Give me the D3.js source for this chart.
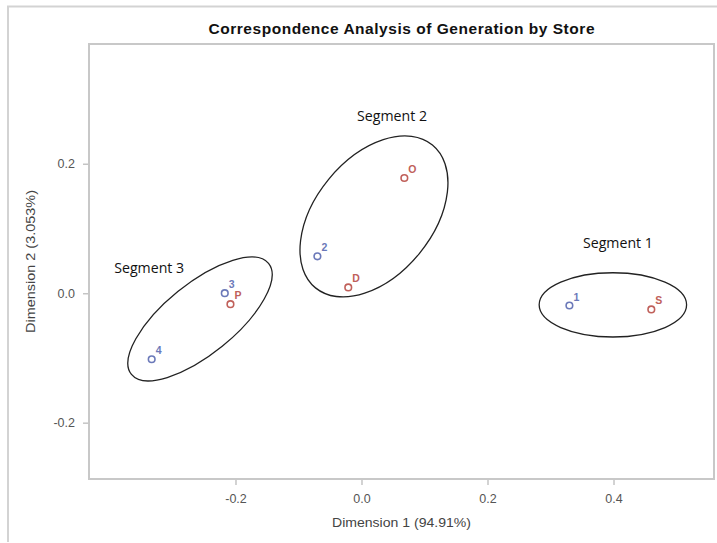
<!DOCTYPE html>
<html>
<head>
<meta charset="utf-8">
<script src="https://cdn.jsdelivr.net/npm/d3@7"></script>
<style>
  body { margin: 0; background: #fff; }
  svg { display: block; font-family: "Liberation Sans", Arial, sans-serif; }
</style>
</head>
<body>
<div id="chart"></div>
<script>
// point labels, coordinates and type (generation = row, store = column)
var labels = ["1", "2", "3", "4", "S", "D", "O", "P"];
var dim1   = [0.330, -0.070, -0.217, -0.333, 0.460, -0.021, 0.068, -0.208];
var dim2   = [-0.019, 0.057, 0.000, -0.102, -0.025, 0.009, 0.178, -0.017];
var types  = ["gen", "gen", "gen", "gen", "store", "store", "store", "store"];

// segment ellipses (data units)
var segNames  = ["Segment 1", "Segment 2", "Segment 3"];
var segCx     = [0.399, 0.0198, -0.2563];
var segCy     = [-0.018, 0.1186, -0.0397];
var segA      = [0.117, 0.1465, 0.140];
var segB      = [0.051, 0.093, 0.056];
var segAngle  = [0, -50.7, -39];
var segLabelX = [0.407, 0.0484, -0.337];
var segLabelY = [0.0777, 0.2738, 0.039];

var xTicks = [-0.2, 0.0, 0.2, 0.4];
var yTicks = [-0.2, 0.0, 0.2];

var W = 717, H = 543;
var margin = {top: 44, right: 3, bottom: 64, left: 89};
var width = W - margin.left - margin.right,
    height = H - margin.top - margin.bottom;

var colors = {gen: "#6b79b9", store: "#c0605a"};

var svg = d3.select("#chart").append("svg")
    .attr("width", W)
    .attr("height", H);

// outer frame lines
svg.append("line").attr("x1", 7).attr("x2", W).attr("y1", 6.5).attr("y2", 6.5)
    .attr("stroke", "#d3d3d3").attr("stroke-width", 2);
svg.append("line").attr("x1", 8).attr("x2", 8).attr("y1", 6).attr("y2", 542)
    .attr("stroke", "#d3d3d3").attr("stroke-width", 2);

var x = d3.scaleLinear().domain([-0.4325, 0.5595]).range([0, width]);
var y = d3.scaleLinear().domain([-0.287, 0.385]).range([height, 0]);

var chartGroup = svg.append("g")
    .attr("transform", `translate(${margin.left}, ${margin.top})`);

// title
svg.append("text")
    .attr("x", 401.5)
    .attr("y", 34)
    .attr("text-anchor", "middle")
    .attr("font-size", "15.5px")
    .attr("font-weight", "bold")
    .attr("fill", "#111")
    .attr("textLength", 386)
    .attr("lengthAdjust", "spacing")
    .text("Correspondence Analysis of Generation by Store");

// axes
var fmt = d => d.toFixed(1);
var xAxis = chartGroup.append("g")
    .attr("transform", `translate(0, ${height})`)
    .call(d3.axisBottom(x).tickValues(xTicks).tickFormat(fmt).tickSize(6).tickPadding(9));
var yAxis = chartGroup.append("g")
    .call(d3.axisLeft(y).tickValues(yTicks).tickFormat(fmt).tickSize(6).tickPadding(8));

[xAxis, yAxis].forEach(function(a) {
    a.select(".domain").remove();
    a.selectAll("line").attr("stroke", "#c4c4c4").attr("stroke-width", 1.5);
    a.selectAll("text").attr("fill", "#555").attr("font-size", "12.5px")
        .attr("font-family", "'Liberation Sans', Arial, sans-serif");
});

// plot frame
chartGroup.append("rect")
    .attr("x", 0).attr("y", 0)
    .attr("width", width).attr("height", height)
    .attr("fill", "none")
    .attr("stroke", "#c8c8c8")
    .attr("stroke-width", 2);

// axis labels
svg.append("text")
    .attr("x", margin.left + width / 2)
    .attr("y", 527)
    .attr("text-anchor", "middle")
    .attr("font-size", "13.5px")
    .attr("fill", "#444")
    .attr("textLength", 139)
    .attr("lengthAdjust", "spacingAndGlyphs")
    .text("Dimension 1 (94.91%)");

svg.append("text")
    .attr("transform", `translate(35, ${margin.top + height / 2}) rotate(-90)`)
    .attr("text-anchor", "middle")
    .attr("font-size", "13.5px")
    .attr("fill", "#444")
    .attr("textLength", 143)
    .attr("lengthAdjust", "spacingAndGlyphs")
    .text("Dimension 2 (3.053%)");

// ellipses
var pxPerX = x(1) - x(0);
segNames.forEach(function(name, i) {
    chartGroup.append("ellipse")
        .attr("transform", `translate(${x(segCx[i])}, ${y(segCy[i])}) rotate(${segAngle[i]})`)
        .attr("rx", segA[i] * pxPerX)
        .attr("ry", segB[i] * pxPerX)
        .attr("fill", "none")
        .attr("stroke", "#222")
        .attr("stroke-width", 1.3);

    chartGroup.append("text")
        .attr("x", x(segLabelX[i]))
        .attr("y", y(segLabelY[i]))
        .attr("dy", "0.35em")
        .attr("text-anchor", "middle")
        .attr("font-family", "'Open Sans', sans-serif")
        .attr("font-size", "14px")
        .attr("fill", "#111")
        .attr("textLength", 70)
        .attr("lengthAdjust", "spacingAndGlyphs")
        .text(name);
});

// points
var points = labels.map((l, i) => ({label: l, d1: dim1[i], d2: dim2[i], type: types[i]}));

chartGroup.selectAll("circle.pt")
    .data(points)
    .enter()
    .append("circle")
    .attr("class", "pt")
    .attr("cx", d => x(d.d1))
    .attr("cy", d => y(d.d2))
    .attr("r", 3.3)
    .attr("fill", "none")
    .attr("stroke", d => colors[d.type])
    .attr("stroke-width", 1.6);

chartGroup.selectAll("text.pt")
    .data(points)
    .enter()
    .append("text")
    .attr("class", "pt")
    .attr("x", d => x(d.d1) + 4)
    .attr("y", d => y(d.d2) - 5)
    .attr("font-size", "10.5px")
    .attr("font-weight", "bold")
    .attr("fill", d => colors[d.type])
    .text(d => d.label);
</script>
</body>
</html>
